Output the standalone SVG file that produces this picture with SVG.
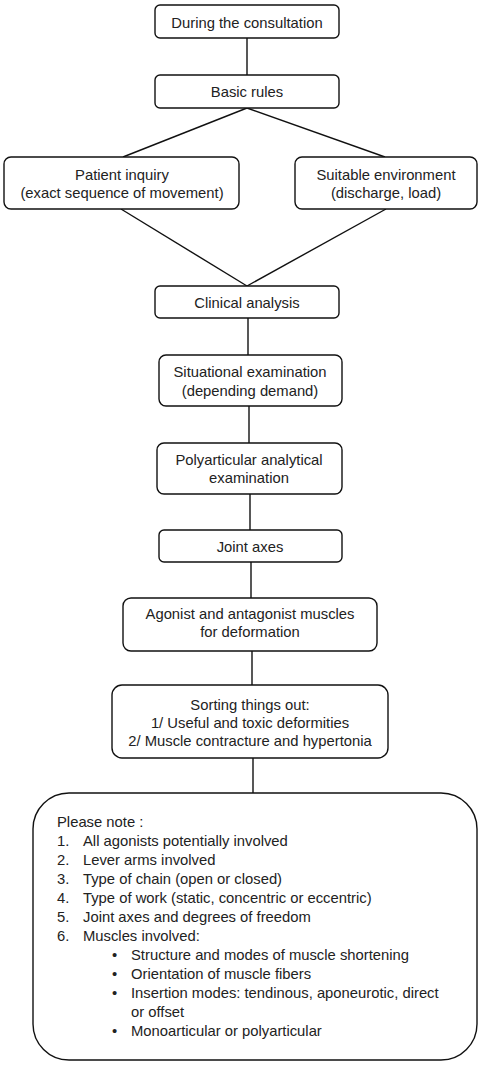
<svg xmlns="http://www.w3.org/2000/svg" width="480" height="1068" viewBox="0 0 480 1068">
<style>
.b{fill:#fff;stroke:#111;stroke-width:1.4}
.c{stroke:#111;stroke-width:1.4;fill:none}
text{font-family:"Liberation Sans",Arial,sans-serif;font-size:14.8px;fill:#222}
.m{text-anchor:middle}
</style>
<rect width="480" height="1068" fill="#fff"/>
<g id="connectors">
<line class="c" x1="247" y1="38" x2="247" y2="75"/>
<line class="c" x1="247" y1="108" x2="123" y2="157"/>
<line class="c" x1="247" y1="108" x2="385" y2="157"/>
<line class="c" x1="121" y1="209" x2="247" y2="286"/>
<line class="c" x1="386" y1="209" x2="247" y2="286"/>
<line class="c" x1="248" y1="318" x2="248" y2="355"/>
<line class="c" x1="249" y1="406" x2="249" y2="443"/>
<line class="c" x1="250" y1="494" x2="250" y2="530"/>
<line class="c" x1="251" y1="562" x2="251" y2="598"/>
<line class="c" x1="252" y1="651" x2="252" y2="685"/>
<line class="c" x1="253" y1="758" x2="253" y2="793"/>
</g>
<g id="n1"><rect class="b" x="155" y="5" width="184" height="33" rx="5"/><text class="m" x="247" y="28">During the consultation</text></g>
<g id="n2"><rect class="b" x="155" y="75" width="184" height="33" rx="5"/><text class="m" x="247" y="97">Basic rules</text></g>
<g id="n3"><rect class="b" x="4" y="157" width="235" height="52" rx="7"/><text class="m" x="122" y="180">Patient inquiry</text><text class="m" x="122" y="198">(exact sequence of movement)</text></g>
<g id="n4"><rect class="b" x="295" y="157" width="182" height="52" rx="7"/><text class="m" x="386" y="180">Suitable environment</text><text class="m" x="386" y="198">(discharge, load)</text></g>
<g id="n5"><rect class="b" x="155" y="286" width="184" height="32" rx="5"/><text class="m" x="247" y="308">Clinical analysis</text></g>
<g id="n6"><rect class="b" x="159" y="355" width="183" height="51" rx="7"/><text class="m" x="250" y="377">Situational examination</text><text class="m" x="250" y="396">(depending demand)</text></g>
<g id="n7"><rect class="b" x="157" y="443" width="185" height="51" rx="7"/><text class="m" x="249" y="465">Polyarticular analytical</text><text class="m" x="249" y="483">examination</text></g>
<g id="n8"><rect class="b" x="159" y="530" width="183" height="32" rx="5"/><text class="m" x="250" y="552">Joint axes</text></g>
<g id="n9"><rect class="b" x="123" y="598" width="254" height="53" rx="8"/><text class="m" x="250" y="619">Agonist and antagonist muscles</text><text class="m" x="250" y="637">for deformation</text></g>
<g id="n10"><rect class="b" x="112" y="685" width="276" height="73" rx="10"/><text class="m" x="250" y="710">Sorting things out:</text><text class="m" x="250" y="728">1/ Useful and toxic deformities</text><text class="m" x="250" y="746">2/ Muscle contracture and hypertonia</text></g>
<g id="n11"><rect class="b" x="33" y="793" width="444" height="267" rx="36"/>
<text x="57" y="827">Please note :</text>
<text x="57" y="846">1.</text><text x="83" y="846">All agonists potentially involved</text>
<text x="57" y="865">2.</text><text x="83" y="865">Lever arms involved</text>
<text x="57" y="884">3.</text><text x="83" y="884">Type of chain (open or closed)</text>
<text x="57" y="903">4.</text><text x="83" y="903">Type of work (static, concentric or eccentric)</text>
<text x="57" y="922">5.</text><text x="83" y="922">Joint axes and degrees of freedom</text>
<text x="57" y="941">6.</text><text x="83" y="941">Muscles involved:</text>
<text x="112" y="960">•</text><text x="131" y="960">Structure and modes of muscle shortening</text>
<text x="112" y="979">•</text><text x="131" y="979">Orientation of muscle fibers</text>
<text x="112" y="998">•</text><text x="131" y="998">Insertion modes: tendinous, aponeurotic, direct</text>
<text x="131" y="1017">or offset</text>
<text x="112" y="1036">•</text><text x="131" y="1036">Monoarticular or polyarticular</text>
</g>
</svg>
